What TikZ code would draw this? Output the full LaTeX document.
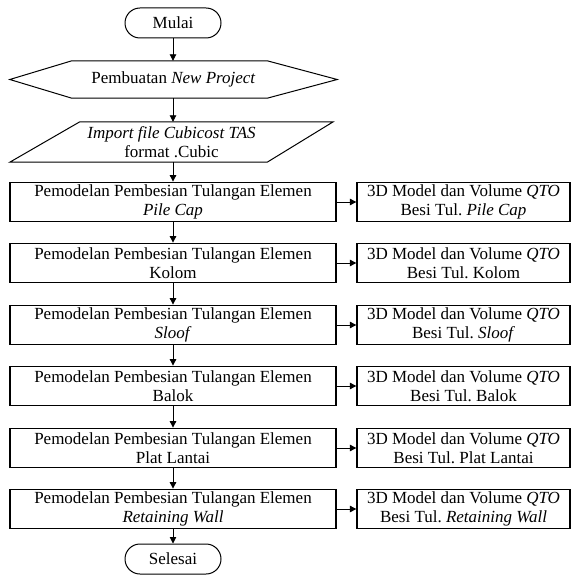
\documentclass[tikz,border=0pt]{standalone}
\usepackage{fontspec}
\setmainfont{Liberation Serif}
\usetikzlibrary{arrows.meta}
\begin{document}
\frenchspacing
\begin{tikzpicture}[x=1pt,y=-1pt, font=\fontsize{17}{19.5}\selectfont,
  procbox/.style={draw, line width=1.3pt, minimum width=326pt, minimum height=39.5pt, align=center, inner sep=0pt},
  outbox/.style={procbox, minimum width=213pt},
  term/.style={draw, line width=1pt, rounded corners=15pt, minimum width=96pt, minimum height=30pt, inner sep=0pt},
  shapeline/.style={draw, line width=1pt},
  arr/.style={-{Triangle[length=6.5pt,width=6.5pt]}, line width=0.9pt}]
\useasboundingbox (0,0) rectangle (571,577);

\node[term] (mulai) at (173,23) {Mulai};

\node[minimum width=327pt, minimum height=37pt, inner sep=0pt] (hex) at (173.5,79.5) {Pembuatan \textit{New Project}};
\draw[shapeline] (hex.west) -- ([xshift=62pt]hex.north west) -- ([xshift=-70pt]hex.north east) -- (hex.east)
  -- ([xshift=-70pt]hex.south east) -- ([xshift=62pt]hex.south west) -- cycle;

\node[minimum width=323pt, minimum height=40pt, inner sep=0pt, align=center] (para) at (171.5,142) {\textit{Import file Cubicost TAS}\\format .Cubic};
\draw[shapeline] ([xshift=70pt]para.north west) -- (para.north east) -- ([xshift=-66pt]para.south east)
  -- (para.south west) -- cycle;

\node[procbox] (p1) at (173,202) {Pemodelan Pembesian Tulangan Elemen\\\textit{Pile Cap}};
\node[procbox] (p2) at (173,263) {Pemodelan Pembesian Tulangan Elemen\\Kolom};
\node[procbox] (p3) at (173,325) {Pemodelan Pembesian Tulangan Elemen\\\textit{Sloof}};
\node[procbox] (p4) at (173,386) {Pemodelan Pembesian Tulangan Elemen\\Balok};
\node[procbox] (p5) at (173,448) {Pemodelan Pembesian Tulangan Elemen\\Plat Lantai};
\node[procbox] (p6) at (173,509) {Pemodelan Pembesian Tulangan Elemen\\\textit{Retaining Wall}};

\node[outbox] (o1) at (463.5,202) {3D Model dan Volume \textit{QTO}\\Besi Tul. \textit{Pile Cap}};
\node[outbox] (o2) at (463.5,263) {3D Model dan Volume \textit{QTO}\\Besi Tul. Kolom};
\node[outbox] (o3) at (463.5,325) {3D Model dan Volume \textit{QTO}\\Besi Tul. \textit{Sloof}};
\node[outbox] (o4) at (463.5,386) {3D Model dan Volume \textit{QTO}\\Besi Tul. Balok};
\node[outbox] (o5) at (463.5,448) {3D Model dan Volume \textit{QTO}\\Besi Tul. Plat Lantai};
\node[outbox] (o6) at (463.5,509) {3D Model dan Volume \textit{QTO}\\Besi Tul. \textit{Retaining Wall}};

\node[term] (selesai) at (173,559) {Selesai};

\draw[arr] (mulai.south) -- (mulai.south |- hex.north);
\draw[arr] (hex.south -| p1.north) -- (p1.north |- para.north);
\draw[arr] (p1.north |- para.south) -- (p1.north);
\draw[arr] (p1) -- (p2);
\draw[arr] (p2) -- (p3);
\draw[arr] (p3) -- (p4);
\draw[arr] (p4) -- (p5);
\draw[arr] (p5) -- (p6);
\draw[arr] (p6.south -| selesai.north) -- (selesai.north);
\draw[arr] (p1) -- (o1);
\draw[arr] (p2) -- (o2);
\draw[arr] (p3) -- (o3);
\draw[arr] (p4) -- (o4);
\draw[arr] (p5) -- (o5);
\draw[arr] (p6) -- (o6);
\end{tikzpicture}
\end{document}
